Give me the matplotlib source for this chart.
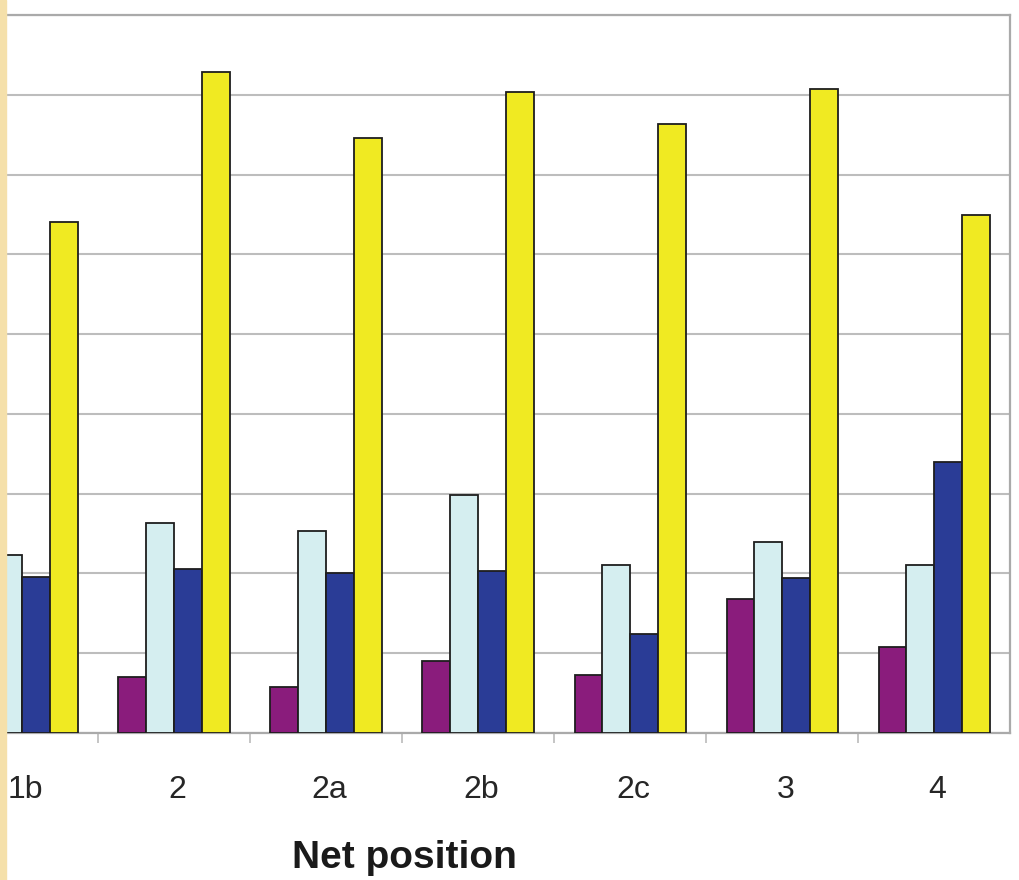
import numpy as np
import matplotlib
matplotlib.use("Agg")
import matplotlib.pyplot as plt
from matplotlib.patches import Rectangle

plt.rcParams['font.family'] = ['Liberation Sans', 'DejaVu Sans']

# grupos por posição de rede
categorias = ['1b', '2', '2a', '2b', '2c', '3', '4']

# quatro séries (roxo, azul claro, azul escuro, amarelo)
roxo = [np.nan, 0.70, 0.58, 0.90, 0.73, 1.68, 1.08]
azul_claro = [2.23, 2.63, 2.53, 2.98, 2.10, 2.40, 2.10]
azul_escuro = [1.95, 2.05, 2.00, 2.03, 1.24, 1.94, 3.40]
amarelo = [6.41, 8.28, 7.46, 8.03, 7.63, 8.07, 6.49]

series = [roxo, azul_claro, azul_escuro, amarelo]
cores = ['#8A1C7C', '#D5EEF0', '#2A3C96', '#F0EA22']

fig = plt.figure(figsize=(10.19, 8.80), dpi=100)
ax = fig.add_axes([6/1019, (880-733)/880, (1010-6)/1019, 718/880])

x = np.arange(len(categorias))
larg = 0.184
for k, (vals, cor) in enumerate(zip(series, cores)):
    ax.bar(x + (k - 1.5)*larg, vals, larg, color=cor,
           edgecolor='#1E1E1E', linewidth=1.3, zorder=3)

ax.set_yticks(np.arange(0, 10, 1))
ax.yaxis.grid(True, color='#BDBDBD', linewidth=1.5, zorder=0)
ax.tick_params(axis='y', left=False, labelleft=False)

ax.set_xticks(x + 0.02)
ax.set_xticklabels(categorias, fontsize=23, color='#262626')
ax.tick_params(axis='x', which='major', length=0, pad=30)
ax.set_xticks(np.arange(-0.5, 7, 1), minor=True)
ax.tick_params(axis='x', which='minor', length=7, width=1.2, color='#BBBBBB')

# limites depois dos ticks (set_xticks expande a vista)
ax.set_xlim(-0.108, 6.497)
ax.set_ylim(0, 9)

for lado in ['top', 'right', 'bottom']:
    ax.spines[lado].set_color('#AAAAAA')
    ax.spines[lado].set_linewidth(1.6)
ax.spines['left'].set_visible(False)

ax.set_xlabel('Net position', fontsize=28, fontweight='bold', color='#1A1A1A')
ax.xaxis.set_label_coords(0.397, -0.149)

# faixa bege na borda esquerda
fig.patches.append(Rectangle((0, 0), 6/1019, 1, transform=fig.transFigure,
                             color='#F5E0AA', zorder=0))

fig.savefig('out.png', dpi=100)
